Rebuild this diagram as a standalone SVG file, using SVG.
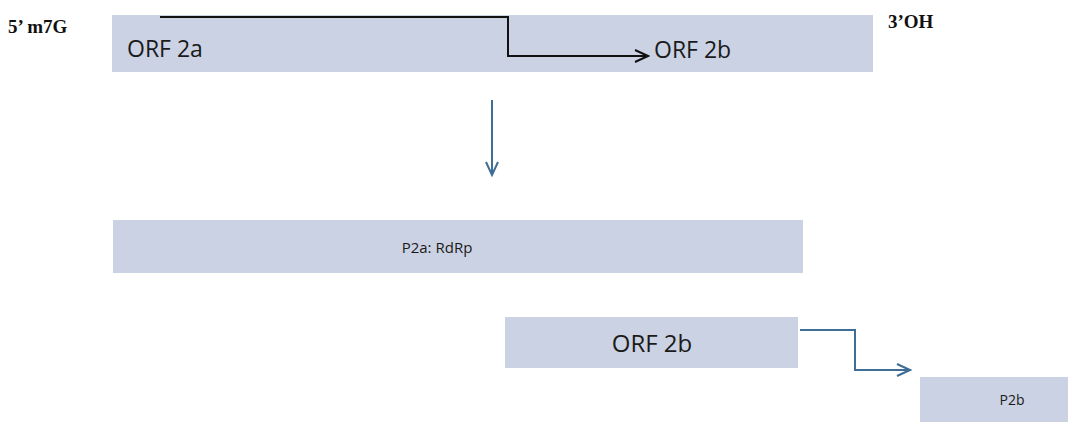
<svg xmlns="http://www.w3.org/2000/svg" width="1068" height="422" viewBox="0 0 1068 422">
<style>
.bar{fill:#cbd2e3;}
.lbl{font-family:"Open Sans","Liberation Sans",sans-serif;fill:#1a1a1a;}
.end{font-family:"Liberation Serif",serif;font-weight:bold;font-size:19px;fill:#111;}
.blk{fill:none;stroke:#111;stroke-width:2;}
.blu{fill:none;stroke:#3e6d95;stroke-width:2;}
</style>
<defs>
<marker id="ab" markerWidth="16" markerHeight="14" refX="14" refY="7" orient="auto" markerUnits="userSpaceOnUse"><path d="M1,1 L14,7 L1,13" fill="none" stroke="#111" stroke-width="2"/></marker>
<marker id="au" markerWidth="16" markerHeight="14" refX="14" refY="7" orient="auto" markerUnits="userSpaceOnUse"><path d="M1,1 L14,7 L1,13" fill="none" stroke="#3e6d95" stroke-width="2"/></marker>
</defs>
<rect width="1068" height="422" fill="#fff"/>
<text class="end" x="8" y="33">5’ m7G</text>
<text class="end" x="888" y="28">3’OH</text>
<g id="mrna">
<rect class="bar" x="112" y="15" width="761" height="57"/>
<text class="lbl" x="127" y="57" font-size="23">ORF 2a</text>
<text class="lbl" x="654" y="58" font-size="23">ORF 2b</text>
</g>
<g id="p2a">
<rect class="bar" x="113" y="220" width="690" height="53"/>
<text class="lbl" x="437" y="253" font-size="15" text-anchor="middle">P2a: RdRp</text>
</g>
<g id="orf2b">
<rect class="bar" x="505" y="317" width="293" height="51"/>
<text class="lbl" x="652" y="352" font-size="24" text-anchor="middle">ORF 2b</text>
</g>
<g id="p2b">
<rect class="bar" x="920" y="377" width="148" height="45"/>
<text class="lbl" x="1012" y="405" font-size="14" text-anchor="middle">P2b</text>
</g>
<g id="connectors">
<path class="blk" d="M160,17 H508 V56 H648" marker-end="url(#ab)"/>
<path class="blu" d="M492,100 V175" marker-end="url(#au)"/>
<path class="blu" d="M800,330 H855 V370 H910" marker-end="url(#au)"/>
</g>
</svg>
